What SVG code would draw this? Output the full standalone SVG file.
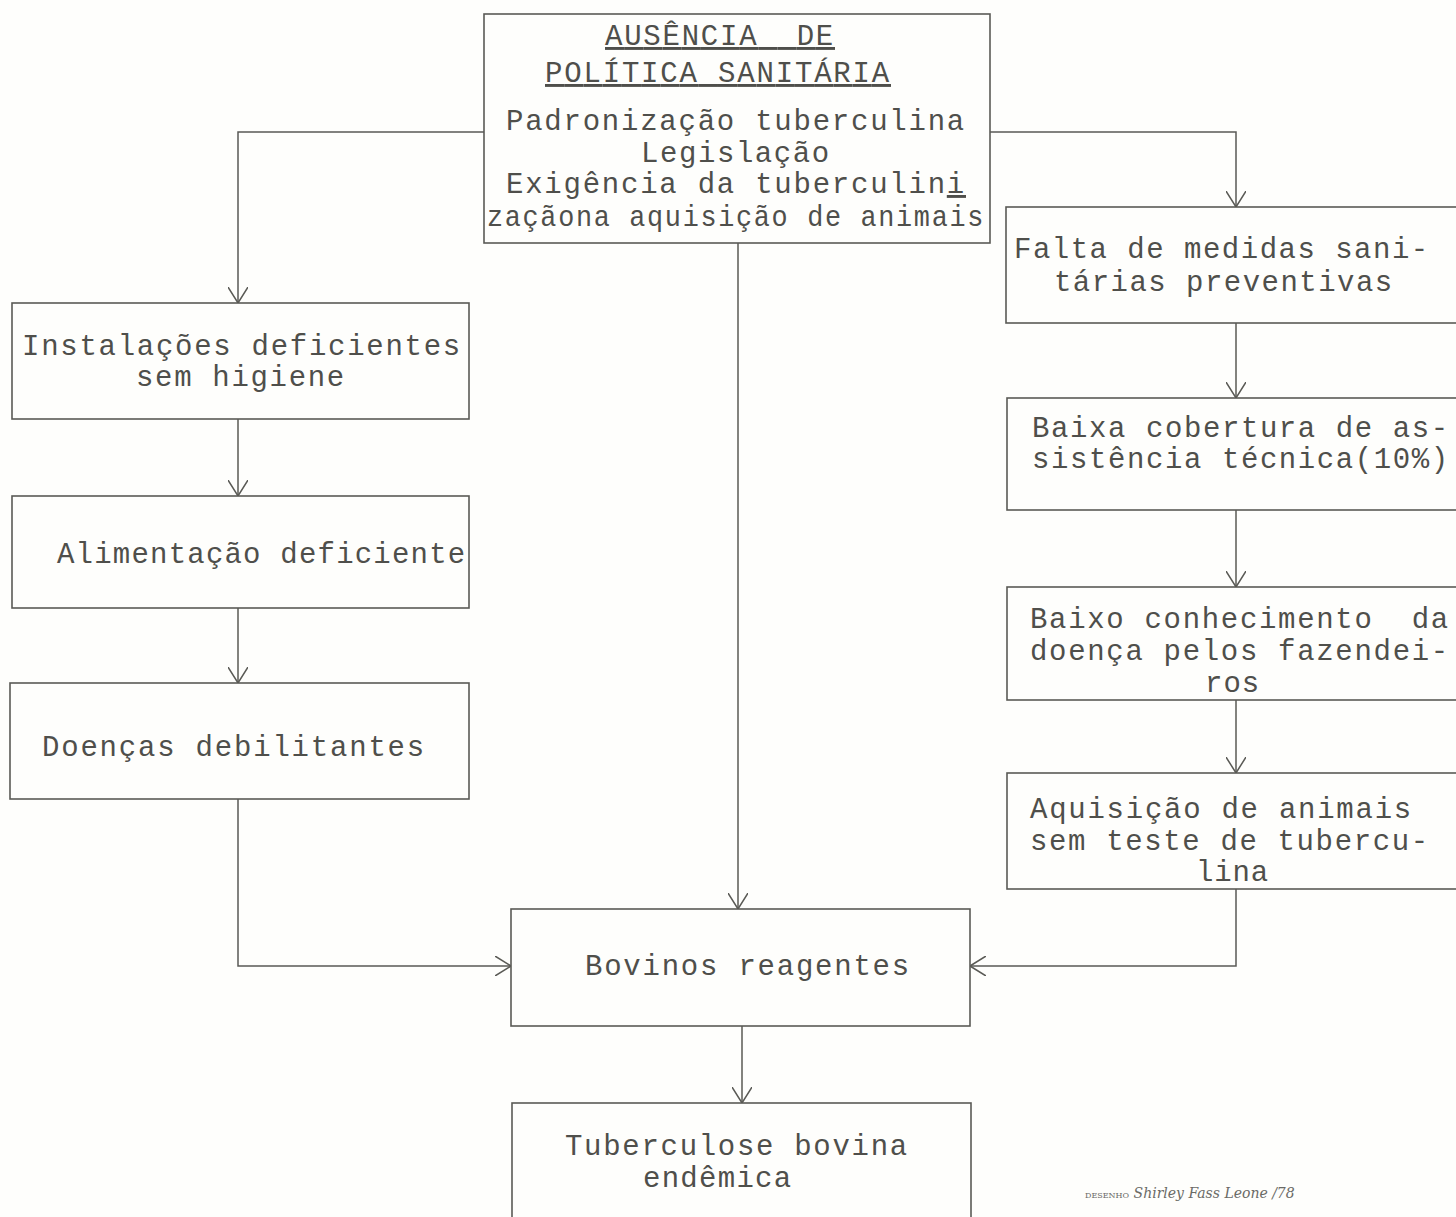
<svg xmlns="http://www.w3.org/2000/svg" width="1456" height="1217" viewBox="0 0 1456 1217">
<defs>
<style>
.box{fill:none;stroke:#5a5a55;stroke-width:1.6}
.t{font-family:"Liberation Mono","DejaVu Sans Mono",monospace;font-size:29px;letter-spacing:1.8px;fill:#4f4f4b}
.c{stroke:#5a5a55;stroke-width:1.5;fill:none}
.sig{font-family:"DejaVu Serif",serif;font-style:italic;font-size:14px;fill:#6a6a66}
</style>
<marker id="ah" viewBox="0 0 16 20" refX="16" refY="10" markerWidth="16" markerHeight="20" markerUnits="userSpaceOnUse" orient="auto">
<path d="M0,0 L16,10 L0,20" fill="none" stroke="#5a5a55" stroke-width="1.5"/>
</marker>
</defs>
<rect width="1456" height="1217" fill="#fefefc"/>

<g id="connectors">
<path class="c" d="M484,132 H238 V303" marker-end="url(#ah)"/>
<path class="c" d="M990,132 H1236 V207" marker-end="url(#ah)"/>
<path class="c" d="M738,243 V909" marker-end="url(#ah)"/>
<path class="c" d="M238,419 V496" marker-end="url(#ah)"/>
<path class="c" d="M238,608 V683" marker-end="url(#ah)"/>
<path class="c" d="M238,799 V966 H511" marker-end="url(#ah)"/>
<path class="c" d="M1236,323 V398" marker-end="url(#ah)"/>
<path class="c" d="M1236,510 V587" marker-end="url(#ah)"/>
<path class="c" d="M1236,700 V773" marker-end="url(#ah)"/>
<path class="c" d="M1236,889 V966 H970" marker-end="url(#ah)"/>
<path class="c" d="M742,1026 V1103" marker-end="url(#ah)"/>
</g>

<g id="n-ausencia">
<rect class="box" x="484" y="14" width="506" height="229"/>
<text class="t" x="605" y="45" textLength="230" text-decoration="underline" xml:space="preserve">AUSÊNCIA  DE</text>
<text class="t" x="545" y="82" textLength="346" text-decoration="underline">POLÍTICA SANITÁRIA</text>
<text class="t" x="506" y="130" textLength="460">Padronização tuberculina</text>
<text class="t" x="641" y="162" textLength="190">Legislação</text>
<text class="t" x="506" y="193" textLength="460">Exigência da tubercul<tspan>in</tspan><tspan text-decoration="underline">i</tspan></text>
<text class="t" x="487" y="226" textLength="498" lengthAdjust="spacingAndGlyphs">zaçãona aquisição de animais</text>
</g>

<g id="n-instalacoes">
<rect class="box" x="12" y="303" width="457" height="116"/>
<text class="t" x="22" y="355" textLength="440">Instalações deficientes</text>
<text class="t" x="136" y="386" textLength="210">sem higiene</text>
</g>

<g id="n-alimentacao">
<rect class="box" x="12" y="496" width="457" height="112"/>
<text class="t" x="57" y="563" textLength="410">Alimentação deficiente</text>
</g>

<g id="n-doencas">
<rect class="box" x="10" y="683" width="459" height="116"/>
<text class="t" x="42" y="756" textLength="384">Doenças debilitantes</text>
</g>

<g id="n-falta">
<rect class="box" x="1006" y="207" width="460" height="116"/>
<text class="t" x="1014" y="258" textLength="416">Falta de medidas sani-</text>
<text class="t" x="1054" y="291" textLength="340">tárias preventivas</text>
</g>

<g id="n-baixa">
<rect class="box" x="1007" y="398" width="460" height="112"/>
<text class="t" x="1032" y="437" textLength="418">Baixa cobertura de as-</text>
<text class="t" x="1032" y="468" textLength="418">sistência técnica(10%)</text>
</g>

<g id="n-conhecimento">
<rect class="box" x="1007" y="587" width="460" height="113"/>
<text class="t" x="1030" y="628" textLength="420" xml:space="preserve">Baixo conhecimento  da</text>
<text class="t" x="1030" y="660" textLength="420">doença pelos fazendei-</text>
<text class="t" x="1205" y="692" textLength="56">ros</text>
</g>

<g id="n-aquisicao">
<rect class="box" x="1007" y="773" width="460" height="116"/>
<text class="t" x="1030" y="818" textLength="383">Aquisição de animais</text>
<text class="t" x="1030" y="850" textLength="400">sem teste de tubercu-</text>
<text class="t" x="1196" y="881" textLength="74">lina</text>
</g>

<g id="n-bovinos">
<rect class="box" x="511" y="909" width="459" height="117"/>
<text class="t" x="585" y="975" textLength="326">Bovinos reagentes</text>
</g>

<g id="n-tuberculose">
<rect class="box" x="512" y="1103" width="459" height="120"/>
<text class="t" x="565" y="1155" textLength="344">Tuberculose bovina</text>
<text class="t" x="643" y="1187" textLength="150">endêmica</text>
</g>

<text class="sig" x="1085" y="1198"><tspan font-size="8" font-style="normal">DESENHO</tspan> Shirley Fass Leone /78</text>
</svg>
